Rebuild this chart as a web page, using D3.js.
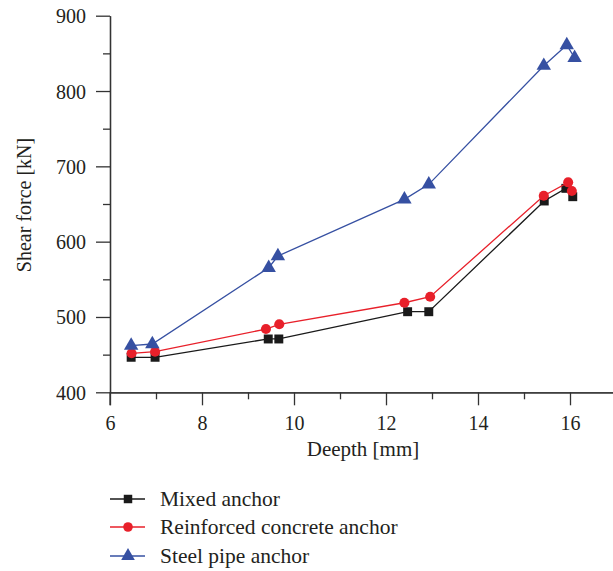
<!DOCTYPE html>
<html><head><meta charset="utf-8">
<script src="https://cdn.jsdelivr.net/npm/d3@7"></script>
<style>
html,body{margin:0;padding:0;background:#fff;}
svg{display:block;}
text{font-family:"Liberation Serif","Times New Roman",serif;fill:#231f20;}
</style></head>
<body>
<svg id="chart" width="613" height="571"></svg>
<script>
const seriesNames = ["Mixed anchor", "Reinforced concrete anchor", "Steel pipe anchor"];
const mixedX = [6.46, 6.98, 9.44, 9.67, 12.47, 12.93, 15.44, 15.91, 16.06];
const mixedY = [446.5, 446.5, 470.8, 470.8, 507.0, 507.0, 654.0, 670.8, 659.7];
const concreteX = [6.47, 6.98, 9.39, 9.68, 12.40, 12.96, 15.43, 15.96, 16.04];
const concreteY = [451.8, 453.9, 484.0, 490.3, 518.9, 526.9, 661.0, 678.8, 667.2];
const steelX = [6.46, 6.92, 9.45, 9.65, 12.40, 12.93, 15.43, 15.93, 16.10];
const steelY = [461.9, 464.1, 565.4, 580.9, 656.2, 676.1, 833.6, 861.0, 844.2];
const xTicks = [6, 8, 10, 12, 14, 16];
const xMinor = [7, 9, 11, 13, 15];
const yTicks = [400, 500, 600, 700, 800, 900];
const yMinor = [450, 550, 650, 750, 850];
const colors = ["#1a1a1a", "#e8202a", "#3650a2"];
const symbols = [d3.symbolSquare, d3.symbolCircle, d3.symbolTriangle];
const symSizes = [80, 80, 90];

const svg = d3.select("#chart");
const x = d3.scaleLinear().domain([6, 17]).range([110, 616]);
const y = d3.scaleLinear().domain([400, 900]).range([392.3, 15.7]);
const axisColor = "#333";

// x axis
const gx = svg.append("g").attr("transform", `translate(0,${y(400)})`);
gx.call(d3.axisBottom(x).tickValues(xTicks).tickSize(13).tickSizeOuter(0).tickFormat(d3.format("d")));
gx.append("g").call(d3.axisBottom(x).tickValues(xMinor).tickSize(7).tickSizeOuter(0).tickFormat(""));
gx.selectAll("path.domain").attr("stroke", axisColor).attr("stroke-width", 1.3);
gx.selectAll(".tick line").attr("stroke", axisColor).attr("stroke-width", 1.3);
gx.selectAll(".tick text").attr("y", 24).attr("dy", "0.71em").style("font-size", "20px")
  .style("font-family", '"Liberation Serif",serif').attr("fill", "#231f20");

// y axis
const gy = svg.append("g").attr("transform", `translate(${x(6)},0)`);
gy.call(d3.axisLeft(y).tickValues(yTicks).tickSize(14).tickSizeOuter(0).tickFormat(d3.format("d")));
gy.append("g").call(d3.axisLeft(y).tickValues(yMinor).tickSize(7).tickSizeOuter(0).tickFormat(""));
gy.selectAll("path.domain").attr("stroke", axisColor).attr("stroke-width", 1.3);
gy.selectAll(".tick line").attr("stroke", axisColor).attr("stroke-width", 1.3);
gy.selectAll(".tick text").attr("x", -24).attr("dy", "0.35em").style("font-size", "20px")
  .style("font-family", '"Liberation Serif",serif').attr("fill", "#231f20");
svg.append("line").attr("x1", x(6)).attr("x2", x(6)).attr("y1", y(400)).attr("y2", y(400) + 13)
  .attr("stroke", axisColor).attr("stroke-width", 1.3);

// titles
svg.append("text").attr("x", 363).attr("y", 456).attr("text-anchor", "middle")
  .style("font-size", "21px").text("Deepth [mm]");
svg.append("text").attr("transform", "translate(31,205) rotate(-90)").attr("text-anchor", "middle")
  .style("font-size", "20px").text("Shear force [kN]");

// series
const series = [
  {name: seriesNames[0], xs: mixedX, ys: mixedY},
  {name: seriesNames[1], xs: concreteX, ys: concreteY},
  {name: seriesNames[2], xs: steelX, ys: steelY}
];
const line = d3.line().x(d => x(d[0])).y(d => y(d[1]));
series.forEach((s, i) => {
  const pts = s.xs.map((v, k) => [v, s.ys[k]]);
  const g = svg.append("g");
  g.append("path").attr("d", line(pts)).attr("fill", "none").attr("stroke", colors[i]).attr("stroke-width", 1.3);
  g.selectAll("path.pt").data(pts).enter().append("path").attr("class", "pt")
    .attr("transform", d => `translate(${x(d[0])},${y(d[1])})`)
    .attr("d", d3.symbol().type(symbols[i]).size(symSizes[i]))
    .attr("fill", colors[i]);
});

// legend
const legendY = [499, 527, 556];
series.forEach((s, i) => {
  const g = svg.append("g").attr("transform", `translate(0,${legendY[i]})`);
  g.append("line").attr("x1", 110).attr("x2", 145).attr("y1", 0).attr("y2", 0)
    .attr("stroke", colors[i]).attr("stroke-width", 1.3);
  g.append("path").attr("transform", "translate(128,0)")
    .attr("d", d3.symbol().type(symbols[i]).size(symSizes[i] * 0.9)).attr("fill", colors[i]);
  g.append("text").attr("x", 160).attr("y", 6.5).style("font-size", "21.5px").text(s.name);
});
</script>
</body></html>
